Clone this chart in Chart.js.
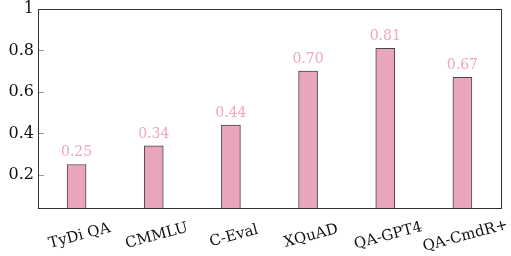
<!DOCTYPE html>
<html>
<head>
<meta charset="utf-8">
<script src="https://cdn.jsdelivr.net/npm/chart.js@4"></script>
<style>
  html, body { margin: 0; padding: 0; background: #fff; }
  #wrap { width: 511px; height: 256px; }
</style>
</head>
<body>
<div id="wrap"><canvas id="chart" width="511" height="256"></canvas></div>
<script>
const categories = ['TyDi QA', 'CMMLU', 'C-Eval', 'XQuAD', 'QA-GPT4', 'QA-CmdR+'];
const scores = [0.25, 0.34, 0.44, 0.70, 0.81, 0.67];
const yTicks = [0.2, 0.4, 0.6, 0.8, 1];

const serif = '"DejaVu Serif", "Liberation Serif", serif';
const barFill = '#e9a6bb';
const labelPink = '#f0a6bf';

// frame, inward ticks, value labels and rotated category labels
const decor = {
    id: 'decor',
    afterDraw(chart) {
        const { ctx, chartArea: a, scales: { x, y } } = chart;
        ctx.save();
        ctx.strokeStyle = '#9a9a9a';
        ctx.lineWidth = 1;
        yTicks.forEach(v => {
            const py = Math.round(y.getPixelForValue(v)) + 0.5;
            ctx.beginPath();
            ctx.moveTo(a.left, py);
            ctx.lineTo(a.left + 6, py);
            ctx.stroke();
        });
        ctx.strokeStyle = '#333';
        ctx.strokeRect(Math.round(a.left) + 0.5, Math.round(a.top) + 0.5, Math.round(a.right - a.left), Math.round(a.bottom - a.top));

        const meta = chart.getDatasetMeta(0);
        ctx.fillStyle = labelPink;
        ctx.font = '14px ' + serif;
        ctx.textAlign = 'center';
        ctx.textBaseline = 'alphabetic';
        meta.data.forEach((bar, i) => {
            ctx.fillText(scores[i].toFixed(2), bar.x, bar.y - 8);
        });

        ctx.fillStyle = '#111';
        ctx.font = '15px ' + serif;
        ctx.textBaseline = 'middle';
        categories.forEach((c, i) => {
            const px = x.getPixelForValue(i) + 3;
            ctx.save();
            ctx.translate(px, a.bottom + 28);
            ctx.rotate(-15 * Math.PI / 180);
            ctx.fillText(c, 0, 0);
            ctx.restore();
        });
        ctx.restore();
    }
};

new Chart(document.getElementById('chart'), {
    type: 'bar',
    data: {
        labels: categories,
        datasets: [{
            data: scores,
            backgroundColor: barFill,
            borderColor: '#474747',
            borderWidth: 1,
            borderSkipped: 'bottom',
            barThickness: 19
        }]
    },
    options: {
        responsive: false,
        animation: false,
        events: [],
        layout: { padding: { top: 9, right: 10, left: 0, bottom: 0 } },
        plugins: {
            legend: { display: false },
            tooltip: { enabled: false }
        },
        scales: {
            x: {
                grid: { display: false, drawTicks: false },
                border: { display: false },
                ticks: { display: false },
                afterFit: (s) => { s.height = 48; }
            },
            y: {
                min: 0.04,
                max: 1,
                grid: { display: false, drawTicks: false },
                border: { display: false },
                afterBuildTicks: (s) => { s.ticks = yTicks.map(v => ({ value: v })); },
                afterFit: (s) => { s.width = 38; s.paddingTop = 0; s.paddingBottom = 0; },
                ticks: {
                    color: '#111',
                    padding: 4,
                    font: { family: serif, size: 16 },
                    callback: (v) => String(v)
                }
            }
        }
    },
    plugins: [decor]
});
</script>
</body>
</html>
